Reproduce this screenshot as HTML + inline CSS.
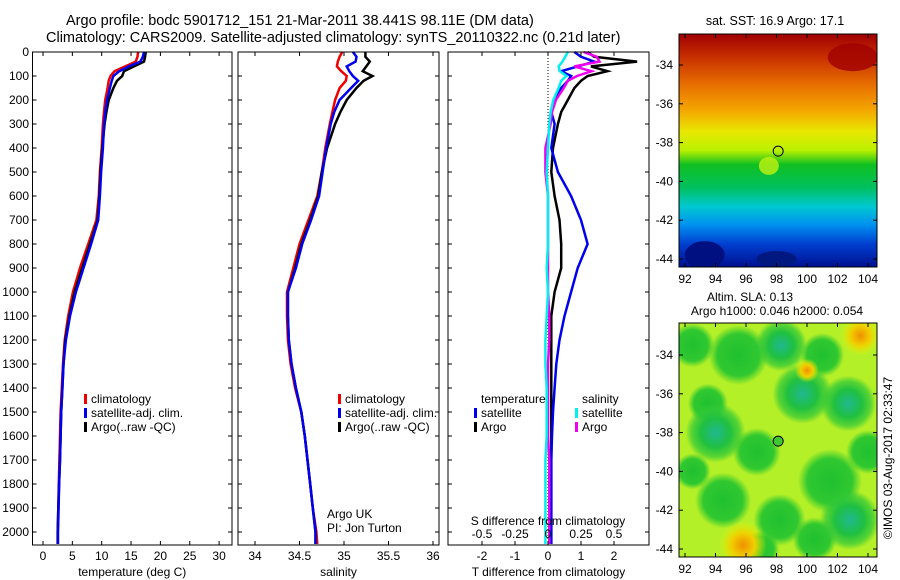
<!DOCTYPE html>
<html><head><meta charset="utf-8"><style>
body{margin:0;background:#fff}
svg{display:block;font-family:"Liberation Sans",sans-serif;font-size:12px}
</style></head><body>
<svg id="fig" width="900" height="580" viewBox="0 0 900 580" xmlns="http://www.w3.org/2000/svg">
<defs>
<linearGradient id="sstg" x1="0" y1="0" x2="0" y2="1">
<stop offset="0" stop-color="#a00000"/><stop offset="0.1" stop-color="#c83000"/><stop offset="0.22" stop-color="#e87000"/>
<stop offset="0.33" stop-color="#f4a800"/><stop offset="0.42" stop-color="#e8e800"/><stop offset="0.5" stop-color="#b8f000"/>
<stop offset="0.56" stop-color="#10c020"/><stop offset="0.66" stop-color="#00c060"/><stop offset="0.74" stop-color="#00c8d0"/>
<stop offset="0.82" stop-color="#0090f0"/><stop offset="0.9" stop-color="#0040d0"/><stop offset="1" stop-color="#001090"/>
</linearGradient>
<radialGradient id="gb"><stop offset="0" stop-color="#20b890"/><stop offset="0.5" stop-color="#20c040"/><stop offset="0.8" stop-color="#30c838" stop-opacity="0.7"/><stop offset="1" stop-color="#30c838" stop-opacity="0"/></radialGradient>
<radialGradient id="gg"><stop offset="0" stop-color="#20c030"/><stop offset="0.7" stop-color="#30c830"/><stop offset="1" stop-color="#30c830" stop-opacity="0"/></radialGradient>
<radialGradient id="go"><stop offset="0" stop-color="#f09000"/><stop offset="0.5" stop-color="#f0d000"/><stop offset="1" stop-color="#e8f000" stop-opacity="0"/></radialGradient>
<clipPath id="c1"><rect x="679" y="34" width="198" height="233"/></clipPath>
<clipPath id="c2"><rect x="679" y="323" width="198" height="234"/></clipPath>
</defs>
<g id="root"></g>
</svg>
<script>
const depths=[0,20,40,60,80,100,120,150,200,250,300,400,500,600,700,800,900,1000,1100,1200,1300,1400,1500,1600,1700,1800,1900,2000,2050];
const tempClim=[16.2,16.1,15.8,14.0,12.2,11.5,11.2,11.0,10.6,10.4,10.2,10.0,9.7,9.5,9.1,7.7,6.3,5.1,4.3,3.7,3.4,3.2,3.0,2.9,2.8,2.7,2.6,2.5,2.5];
const tempSat=[17.2,17.0,16.6,14.6,13.0,12.0,11.7,11.4,10.9,10.6,10.4,10.2,9.9,9.7,9.4,8.2,6.9,5.6,4.6,3.9,3.5,3.3,3.1,3.0,2.9,2.75,2.65,2.55,2.55];
const tempArgo=[17.5,17.4,17.2,15.5,13.8,13.5,12.6,12.0,11.2,10.8,10.5,10.1,9.8,9.6,9.3,8.0,6.7,5.4,4.5,3.8,3.5,3.3,3.1,3.0,2.9,2.75,2.6,2.5,2.5];
const salClim=[34.98,34.95,34.93,34.92,34.97,35.03,35.02,34.95,34.9,34.87,34.84,34.79,34.75,34.70,34.60,34.50,34.43,34.36,34.36,34.37,34.40,34.45,34.52,34.56,34.59,34.62,34.65,34.69,34.70];
const salSat=[35.1,35.14,35.13,35.03,35.06,35.1,35.16,35.08,34.95,34.89,34.85,34.80,34.76,34.72,34.63,34.53,34.46,34.37,34.37,34.38,34.41,34.46,34.52,34.56,34.59,34.62,34.65,34.68,34.68];
const salArgo=[35.24,35.24,35.29,35.25,35.21,35.32,35.22,35.14,35.03,34.96,34.9,34.81,34.75,34.71,34.62,34.52,34.45,34.37,34.37,34.38,34.41,34.46,34.52,34.56,34.59,34.62,34.65,34.68,34.68];
const dTsat=[0.8,1.0,1.4,0.9,0.4,0.7,0.6,0.4,0.2,0.1,0.2,0.1,0.3,0.7,1.0,1.2,0.9,0.7,0.5,0.35,0.25,0.2,0.15,0.12,0.1,0.1,0.1,0.1,0.1];
const dTargo=[1.2,1.4,2.7,1.3,1.8,1.2,1.0,0.8,0.6,0.4,0.3,0.15,0.1,0.2,0.35,0.4,0.4,0.2,0.1,0.1,0.1,0.1,0.1,0.1,0.1,0.1,0.1,0.1,0.1];
const dSsat=[0.15,0.13,0.11,0.08,0.09,0.14,0.1,0.08,0.04,0.02,0.01,0.0,-0.01,0.0,0.0,0.0,-0.01,0.0,-0.01,-0.02,-0.02,-0.01,-0.01,-0.01,-0.02,-0.02,-0.02,-0.02,-0.02];
const dSargo=[0.27,0.37,0.39,0.2,0.33,0.22,0.15,0.12,0.06,0.03,0.02,-0.02,-0.02,0.0,0.0,0.0,0.0,0.0,0.01,0.01,0.0,0.0,0.0,0.0,0.01,0.01,0.01,0.01,0.01];
const depthTicks=[0,100,200,300,400,500,600,700,800,900,1000,1100,1200,1300,1400,1500,1600,1700,1800,1900,2000];
const tempTicks=[0,5,10,15,20,25,30];
const salTicks=[34,34.5,35,35.5,36];
const salTickLabels=["34","34.5","35","35.5","36"];
const dTTicks=[-2,-1,0,1,2];
const dSTicks=[-0.5,-0.25,0,0.25,0.5];
const dSTickLabels=["-0.5","-0.25","0","0.25","0.5"];
const lonTicks=[92,94,96,98,100,102,104];
const latTicks=[-34,-36,-38,-40,-42,-44];
const argoLon=98.11, argoLat=-38.441;

const NS="http://www.w3.org/2000/svg";
const root=document.getElementById('root');
function mk(tag,attrs,parent){const e=document.createElementNS(NS,tag);for(const k in attrs)e.setAttribute(k,attrs[k]);(parent||root).appendChild(e);return e;}
function txt(x,y,s,anchor,parent){const t=mk('text',{x:x,y:y,'text-anchor':anchor||'start',fill:'#000'},parent);t.textContent=s;return t;}
const yD=d=>52+d*0.24;
const pTop=52,pBot=545;

function panel(name,x0,x1,fx,ticks,labels,xlabel,series){
  const g=mk('g',{});
  
  
  series.forEach(s=>{
    const pts=depths.map((d,i)=>fx(s.v[i]).toFixed(1)+','+yD(d).toFixed(1)).join(' ');
    const p=mk('polyline',{points:pts,fill:'none',stroke:s.c,'stroke-width':2.5},g);
    
    
  });
  mk('rect',{x:x0,y:pTop,width:x1-x0,height:pBot-pTop,fill:'none',stroke:'#000','stroke-width':1},g);
  ticks.forEach((t,i)=>{const x=fx(t);
    mk('line',{x1:x,x2:x,y1:pBot,y2:pBot-4,stroke:'#000'},g);
    mk('line',{x1:x,x2:x,y1:pTop,y2:pTop+4,stroke:'#000'},g);
    if(labels){const l=txt(x,560,labels[i],'middle',g);}
  });
  depthTicks.forEach(d=>{mk('line',{x1:x0,x2:x0+4,y1:yD(d),y2:yD(d),stroke:'#000'},g);mk('line',{x1:x1,x2:x1-4,y1:yD(d),y2:yD(d),stroke:'#000'},g);});
  const xl=txt((x0+x1)/2,576,xlabel,'middle',g);
  
  
  return g;
}
const fT=t=>43+5.87*t, fS=s=>255+89*(s-34), fdT=t=>548+33*t, fdS=s=>548+132*s;
panel('temperature-panel',32.5,232,fT,tempTicks,tempTicks.map(String),'temperature (deg C)',
 [{v:tempClim,c:'#f00000',n:'temp-climatology-line'},{v:tempArgo,c:'#000',n:'temp-argo-line'},{v:tempSat,c:'#0000f0',n:'temp-satellite-line'}]);
panel('salinity-panel',238,439,fS,salTicks,salTickLabels,'salinity',
 [{v:salClim,c:'#f00000',n:'sal-climatology-line'},{v:salArgo,c:'#000',n:'sal-argo-line'},{v:salSat,c:'#0000f0',n:'sal-satellite-line'}]);
const zl=mk('line',{x1:fdT(0),x2:fdT(0),y1:pTop,y2:pBot,stroke:'#000','stroke-dasharray':'1,2'});


panel('difference-panel',448,649,fdT,dTTicks,dTTicks.map(String),'T difference from climatology',
 [{v:dTargo,c:'#000',n:'dT-argo-line'},{v:dTsat,c:'#0000f0',n:'dT-satellite-line'},{v:dSargo.map(s=>s*4),c:'#f000f0',n:'dS-argo-line'},{v:dSsat.map(s=>s*4),c:'#00f0f0',n:'dS-satellite-line'}]);
dSTicks.forEach((s,i)=>{const l=txt(fdS(s),538,dSTickLabels[i],'middle');});
txt(548,525,'S difference from climatology','middle');
depthTicks.forEach(d=>{const l=txt(29,yD(d)+4,String(d),'end');});

function leg(x,y,c,s){const g=mk('g',{});
  
  
  mk('rect',{x:x,y:y-9,width:3,height:10,fill:c},g);txt(x+7,y,s,'start',g);}
[[403,'#f00000','climatology'],[417,'#0000f0','satellite-adj. clim.'],[431,'#000','Argo(..raw -QC)']].forEach(a=>{leg(84,a[0],a[1],a[2]);leg(338,a[0],a[1],a[2]);});
txt(481,403,'temperature');txt(582,403,'salinity');
leg(474,417,'#0000f0','satellite');leg(474,431,'#000','Argo');
leg(575,417,'#00f0f0','satellite');leg(575,431,'#f000f0','Argo');
txt(327,518,'Argo UK');txt(327,532,'PI: Jon Turton');
const t1=txt(66,25,'Argo profile: bodc 5901712_151 21-Mar-2011 38.441S 98.11E (DM data)');


t1.setAttribute('font-size','14.5');
const t2=txt(46,42,'Climatology: CARS2009. Satellite-adjusted climatology: synTS_20110322.nc (0.21d later)');


t2.setAttribute('font-size','14.5');

const mlon=l=>685+(l-92)*15.25;
function map(name,y0,h,lat0,fill,clip){
  const g=mk('g',{});
  
  
  const mlat=l=>lat0+(-34-l)*19.4;
  const inner=mk('g',{'clip-path':'url(#'+clip+')'},g);
  fill(inner,mlat);
  mk('rect',{x:679,y:y0,width:198,height:h,fill:'none',stroke:'#000'},g);
  lonTicks.forEach(l=>{const x=mlon(l);mk('line',{x1:x,x2:x,y1:y0,y2:y0+4,stroke:'#000'},g);mk('line',{x1:x,x2:x,y1:y0+h,y2:y0+h-4,stroke:'#000'},g);txt(x,y0+h+16,String(l),'middle',g);});
  latTicks.forEach(l=>{const y=mlat(l);mk('line',{x1:679,x2:683,y1:y,y2:y,stroke:'#000'},g);mk('line',{x1:877,x2:873,y1:y,y2:y,stroke:'#000'},g);txt(673,y+4,String(l),'end',g);});
  return mlat;
}
const lat1=map('sst-map',34,233,65,(g,mlat)=>{
  mk('rect',{x:679,y:34,width:198,height:233,fill:'url(#sstg)'},g);
  mk('ellipse',{cx:mlon(103),cy:mlat(-33.6),rx:25,ry:14,fill:'#a00000',opacity:0.8},g);
  mk('ellipse',{cx:mlon(93.3),cy:mlat(-43.8),rx:20,ry:14,fill:'#001080'},g);
  mk('ellipse',{cx:mlon(98),cy:mlat(-44),rx:20,ry:8,fill:'#001880'},g);
  mk('ellipse',{cx:mlon(97.5),cy:mlat(-39.2),rx:10,ry:9,fill:'#c0f010',opacity:0.8},g);
},'c1');
const mk1=mk('circle',{cx:mlon(argoLon),cy:lat1(argoLat),r:5,fill:'none',stroke:'#000'});


const lat2=map('sla-map',323,234,355,(g,mlat)=>{
  mk('rect',{x:679,y:323,width:198,height:234,fill:'#b4f028'},g);
  [[95.5,-34,30,'gg'],[92.5,-33.5,22,'gg'],[101.5,-40.5,32,'gg'],[94.5,-41.5,28,'gg'],[98.2,-42.5,26,'gg'],[93.5,-36.5,20,'gg'],[100.5,-43.5,22,'gg'],[97,-44,18,'gg'],[104,-39,22,'gg'],[101,-34,22,'gg'],[92.5,-40,18,'gg'],
   [98.3,-33.5,26,'gb'],[99.7,-36,30,'gb'],[94,-38,30,'gb'],[96.7,-39,24,'gg'],[102.8,-42.5,30,'gb'],[102.7,-36.5,28,'gb']].forEach(b=>
    mk('circle',{cx:mlon(b[0]),cy:mlat(b[1]),r:b[2],fill:'url(#'+b[3]+')'},g));
  [[95.8,-43.8,24],[103.5,-33,20],[100,-34.8,12]].forEach(b=>mk('circle',{cx:mlon(b[0]),cy:mlat(b[1]),r:b[2],fill:'url(#go)'},g));
},'c2');
const mk2=mk('circle',{cx:mlon(argoLon),cy:lat2(argoLat),r:5,fill:'#40c830',stroke:'#000'});


const st=txt(775,25,'sat. SST: 16.9 Argo: 17.1','middle');
st.setAttribute('font-size','12.5');
txt(750,301,'Altim. SLA: 0.13','middle');
txt(777,315,'Argo h1000: 0.046 h2000: 0.054','middle');
const cr=txt(0,0,'©IMOS 03-Aug-2017 02:33:47','middle');
cr.setAttribute('transform','translate(892,458) rotate(-90)');


</script>
</body></html>
